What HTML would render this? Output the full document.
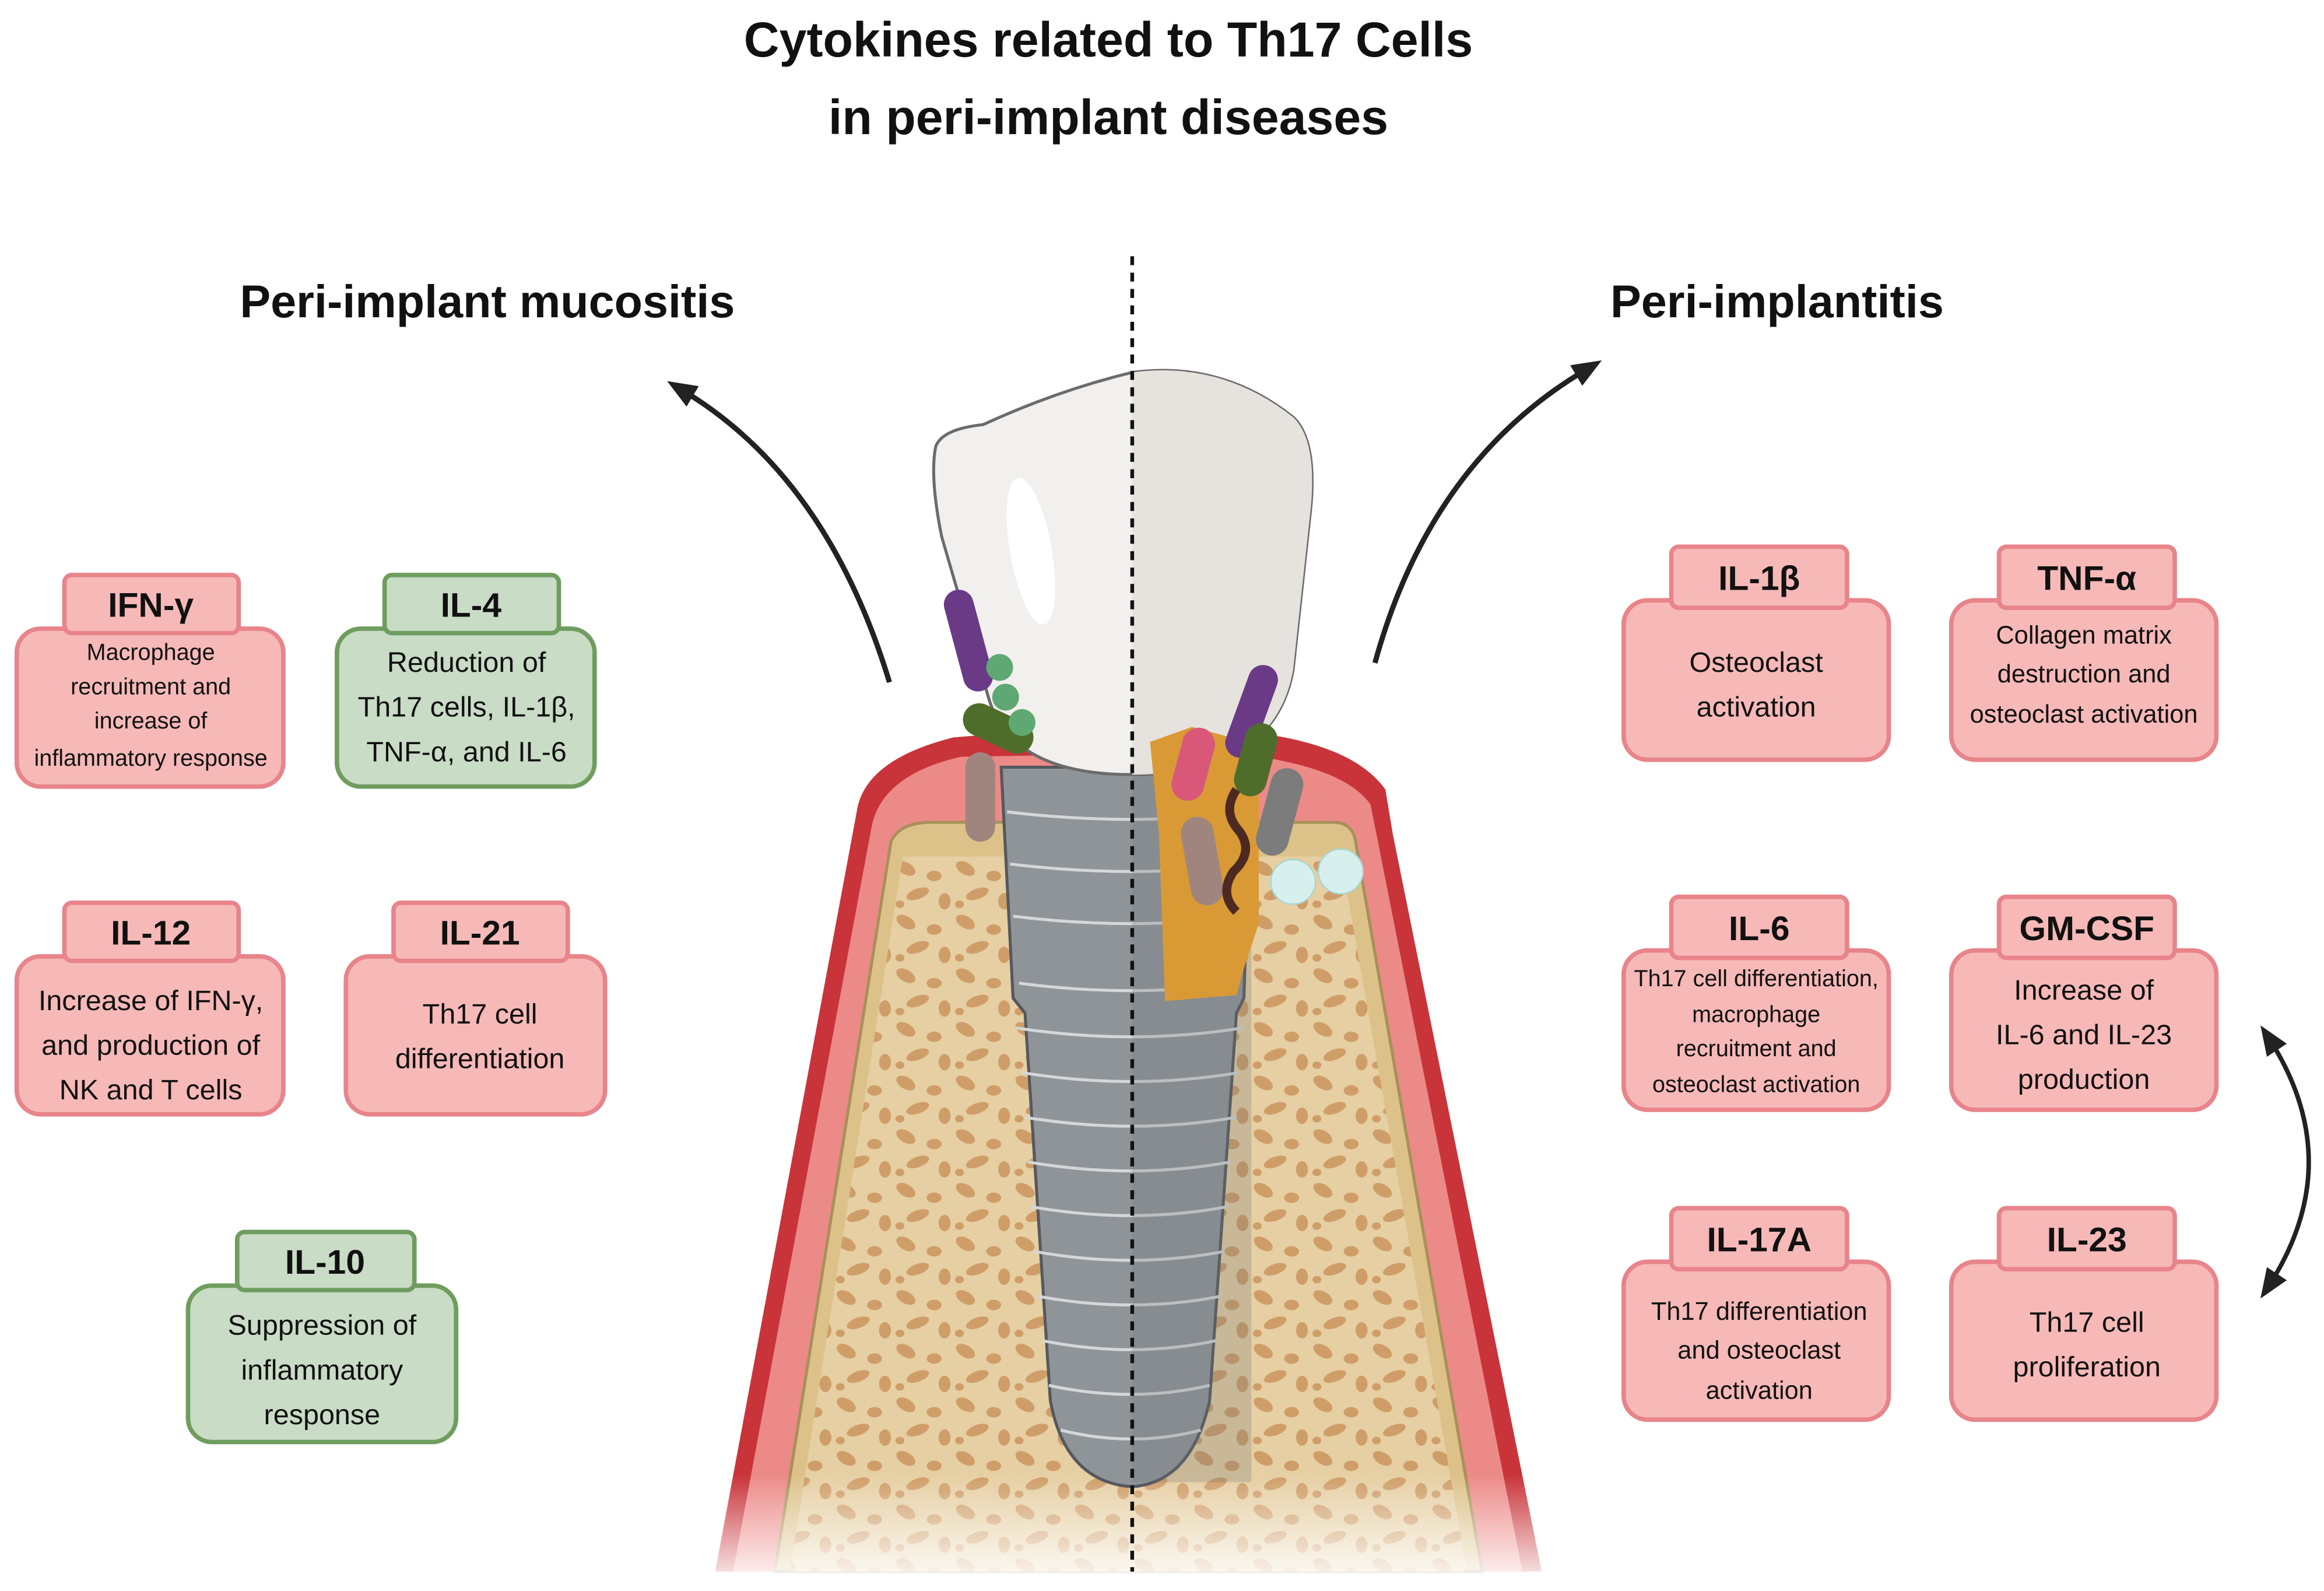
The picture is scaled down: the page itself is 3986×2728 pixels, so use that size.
<!DOCTYPE html>
<html><head><meta charset="utf-8"><style>
html,body{margin:0;padding:0;background:#fff;width:3986px;height:2728px;overflow:hidden}
svg{display:block}
text{font-family:"Liberation Sans",sans-serif;fill:#111}
.t{font-weight:bold;font-size:23px;text-anchor:middle}
.b{font-size:19px;text-anchor:middle}
.s{font-size:15.5px;text-anchor:middle}
.p{fill:#f6b9b7;stroke:#e8848a;stroke-width:3}
.g{fill:#c9dcc6;stroke:#6f9d5f;stroke-width:3}
</style></head><body>
<svg width="3986" height="2728" viewBox="0 0 1560 1068" xmlns="http://www.w3.org/2000/svg">
<defs>
<pattern id="bone" width="40" height="36" patternUnits="userSpaceOnUse">
<rect width="40" height="36" fill="#e6cfa3"/>
<ellipse cx="8" cy="7" rx="7" ry="4" fill="#cf9e68" transform="rotate(30 8 7)"/>
<ellipse cx="27" cy="12" rx="5" ry="3.5" fill="#cf9e68"/>
<ellipse cx="16" cy="24" rx="8" ry="3.5" fill="#cf9e68" transform="rotate(-20 16 24)"/>
<ellipse cx="34" cy="29" rx="4" ry="5.5" fill="#cf9e68"/>
<ellipse cx="4" cy="31" rx="3" ry="2.5" fill="#cf9e68"/>
</pattern>
<marker id="ah" markerWidth="22" markerHeight="22" refX="8" refY="11" orient="auto" markerUnits="userSpaceOnUse"><path d="M0,3 L20,11 L0,19 Z" fill="#222"/></marker>
<marker id="ah2" markerWidth="22" markerHeight="22" refX="12" refY="11" orient="auto-start-reverse" markerUnits="userSpaceOnUse"><path d="M0,3 L20,11 L0,19 Z" fill="#222"/></marker>
<linearGradient id="fade" x1="0" y1="0" x2="0" y2="1"><stop offset="0" stop-color="#fff" stop-opacity="0"/><stop offset="1" stop-color="#fff" stop-opacity="0.9"/></linearGradient>
</defs>

<text x="744" y="38" style="font-size:33px;font-weight:bold;text-anchor:middle">Cytokines related to Th17 Cells</text>
<text x="744" y="90" style="font-size:33px;font-weight:bold;text-anchor:middle">in peri-implant diseases</text>
<text x="327" y="213" style="font-size:31px;font-weight:bold;text-anchor:middle">Peri-implant mucositis</text>
<text x="1193" y="213" style="font-size:31px;font-weight:bold;text-anchor:middle">Peri-implantitis</text>

<!-- gum -->
<path d="M480,1055 L575,545 Q580,510 640,495 L700,490 L820,490 Q905,495 930,530 L935,560 L1035,1055 Z" fill="#c8343a"/>
<path d="M492,1055 L585,555 Q592,520 645,508 L820,505 Q900,512 920,540 L925,565 L1022,1055 Z" fill="#ec8a88"/>
<path d="M520,1055 L598,565 Q604,552 625,552 L895,552 Q908,552 910,565 L995,1055 Z" fill="#dcc289" stroke="#a8905a" stroke-width="2"/>
<path d="M530,1055 L606,575 L900,575 L985,1055 Z" fill="url(#bone)"/>
<rect x="480" y="990" width="560" height="70" fill="url(#fade)"/>
<!-- implant -->
<path d="M672,515 L840,515 L835,670 L830,680 L812,940 Q800,995 760,998 Q715,995 705,940 L688,680 L680,670 Z" fill="#8f9499" stroke="#55595e" stroke-width="2"/>
<g stroke="#d4d7da" stroke-width="2" fill="none">
<path d="M676,545 Q760,555 838,545"/><path d="M678,580 Q760,590 836,580"/><path d="M680,615 Q760,625 834,615"/>
<path d="M684,660 Q760,670 832,660"/><path d="M682,690 Q760,702 834,690"/><path d="M686,720 Q760,732 832,720"/>
<path d="M688,750 Q760,762 830,750"/><path d="M690,780 Q760,792 826,780"/><path d="M692,810 Q760,822 824,810"/>
<path d="M694,840 Q760,852 822,840"/><path d="M696,870 Q760,882 820,870"/><path d="M700,900 Q760,912 816,900"/>
<path d="M704,930 Q760,942 812,930"/><path d="M712,960 Q760,972 806,960"/>
</g>
<rect x="760" y="515" width="80" height="480" fill="#6e7378" opacity="0.25"/>
<!-- crown -->
<path d="M628,300 Q632,288 660,285 Q710,262 760,250 Q820,242 868,280 Q884,295 880,340 L868,450 Q855,520 760,520 Q680,520 664,470 L632,360 Q624,320 628,300 Z" fill="#f2f0ee" stroke="#6b6b6b" stroke-width="2"/>
<path d="M760,250 Q820,242 868,280 Q884,295 880,340 L868,450 Q855,520 760,520 Z" fill="#e6e2de"/>
<ellipse cx="692" cy="370" rx="14" ry="50" fill="#fff" transform="rotate(-10 692 370)"/>
<!-- plaque -->
<path d="M772,498 L800,488 L845,500 L845,620 L835,650 L830,668 L782,672 L778,560 Z" fill="#d99a35"/>
<!-- bacteria -->
<rect x="640" y="395" width="20" height="70" rx="10" fill="#6b3a86" transform="rotate(-15 650 430)"/>
<rect x="645" y="478" width="50" height="22" rx="11" fill="#4f6d2a" transform="rotate(25 670 489)"/>
<rect x="648" y="505" width="20" height="60" rx="10" fill="#a0857e"/>
<circle cx="671" cy="448" r="9" fill="#5fa873"/><circle cx="675" cy="468" r="9" fill="#5fa873"/><circle cx="686" cy="485" r="9" fill="#5fa873"/>
<rect x="830" y="445" width="20" height="65" rx="10" fill="#6b3a86" transform="rotate(20 840 478)"/>
<rect x="790" y="488" width="22" height="50" rx="11" fill="#d9587a" transform="rotate(15 801 513)"/>
<rect x="832" y="485" width="22" height="50" rx="11" fill="#4f6d2a" transform="rotate(15 843 510)"/>
<rect x="848" y="515" width="22" height="60" rx="11" fill="#7c7c7c" transform="rotate(15 859 545)"/>
<rect x="796" y="548" width="22" height="60" rx="11" fill="#a0857e" transform="rotate(-10 807 578)"/>
<path d="M830,530 Q820,545 832,558 Q842,572 828,585 Q818,600 830,612" stroke="#4c2a22" stroke-width="6" fill="none"/>
<circle cx="868" cy="592" r="15" fill="#d7f0ee" stroke="#a9d6d1"/><circle cx="900" cy="585" r="15" fill="#d7f0ee" stroke="#a9d6d1"/>

<line x1="760" y1="172" x2="760" y2="1055" stroke="#111" stroke-width="2.5" stroke-dasharray="6,5"/>

<!-- arrows -->
<path d="M597,458 Q555,320 458,262" stroke="#222" stroke-width="3.5" fill="none" marker-end="url(#ah)"/>
<path d="M923,445 Q960,310 1065,248" stroke="#222" stroke-width="3.5" fill="none" marker-end="url(#ah)"/>
<path d="M1522,695 Q1578,780 1522,865" stroke="#222" stroke-width="3" fill="none" marker-start="url(#ah2)" marker-end="url(#ah2)"/>

<!-- left boxes -->
<g>
<rect class="p" x="11" y="422" width="179" height="106" rx="16"/><rect class="p" x="43" y="386" width="117" height="39" rx="5"/>
<text class="t" x="101" y="414">IFN-γ</text>
<text class="s" x="101" y="443">Macrophage</text><text class="s" x="101" y="466">recruitment and</text><text class="s" x="101" y="489">increase of</text><text class="s" x="101" y="514">inflammatory response</text>

<rect class="g" x="226" y="422" width="173" height="106" rx="16"/><rect class="g" x="258" y="386" width="117" height="39" rx="5"/>
<text class="t" x="316" y="414">IL-4</text>
<text class="b" x="313" y="451">Reduction of</text><text class="b" x="313" y="481">Th17 cells, IL-1β,</text><text class="b" x="313" y="511">TNF-α, and IL-6</text>

<rect class="p" x="11" y="642" width="179" height="106" rx="16"/><rect class="p" x="43" y="606" width="117" height="39" rx="5"/>
<text class="t" x="101" y="634">IL-12</text>
<text class="b" x="101" y="678">Increase of IFN-γ,</text><text class="b" x="101" y="708">and production of</text><text class="b" x="101" y="738">NK and T cells</text>

<rect class="p" x="232" y="642" width="174" height="106" rx="16"/><rect class="p" x="264" y="606" width="117" height="39" rx="5"/>
<text class="t" x="322" y="634">IL-21</text>
<text class="b" x="322" y="687">Th17 cell</text><text class="b" x="322" y="717">differentiation</text>

<rect class="g" x="126" y="863" width="180" height="105" rx="16"/><rect class="g" x="159" y="827" width="119" height="39" rx="5"/>
<text class="t" x="218" y="855">IL-10</text>
<text class="b" x="216" y="896">Suppression of</text><text class="b" x="216" y="926">inflammatory</text><text class="b" x="216" y="956">response</text>
</g>
<!-- right boxes -->
<g>
<rect class="p" x="1090" y="403" width="178" height="107" rx="16"/><rect class="p" x="1122" y="367" width="118" height="41" rx="5"/>
<text class="t" x="1181" y="396">IL-1β</text>
<text class="b" x="1179" y="451">Osteoclast</text><text class="b" x="1179" y="481">activation</text>

<rect class="p" x="1310" y="403" width="178" height="107" rx="16"/><rect class="p" x="1342" y="367" width="118" height="41" rx="5"/>
<text class="t" x="1401" y="396">TNF-α</text>
<text class="s" x="1399" y="432" style="font-size:17px">Collagen matrix</text><text class="s" x="1399" y="458" style="font-size:17px">destruction and</text><text class="s" x="1399" y="485" style="font-size:17px">osteoclast activation</text>

<rect class="p" x="1090" y="638" width="178" height="107" rx="16"/><rect class="p" x="1122" y="602" width="118" height="41" rx="5"/>
<text class="t" x="1181" y="631">IL-6</text>
<text class="s" x="1179" y="662">Th17 cell differentiation,</text><text class="s" x="1179" y="686">macrophage</text><text class="s" x="1179" y="709">recruitment and</text><text class="s" x="1179" y="733">osteoclast activation</text>

<rect class="p" x="1310" y="638" width="178" height="107" rx="16"/><rect class="p" x="1342" y="602" width="118" height="41" rx="5"/>
<text class="t" x="1401" y="631">GM-CSF</text>
<text class="b" x="1399" y="671">Increase of</text><text class="b" x="1399" y="701">IL-6 and IL-23</text><text class="b" x="1399" y="731">production</text>

<rect class="p" x="1090" y="847" width="178" height="106" rx="16"/><rect class="p" x="1122" y="811" width="118" height="41" rx="5"/>
<text class="t" x="1181" y="840">IL-17A</text>
<text class="s" x="1181" y="886" style="font-size:17px">Th17 differentiation</text><text class="s" x="1181" y="912" style="font-size:17px">and osteoclast</text><text class="s" x="1181" y="939" style="font-size:17px">activation</text>

<rect class="p" x="1310" y="847" width="178" height="106" rx="16"/><rect class="p" x="1342" y="811" width="118" height="41" rx="5"/>
<text class="t" x="1401" y="840">IL-23</text>
<text class="b" x="1401" y="894">Th17 cell</text><text class="b" x="1401" y="924">proliferation</text>
</g>
</svg>
</body></html>
